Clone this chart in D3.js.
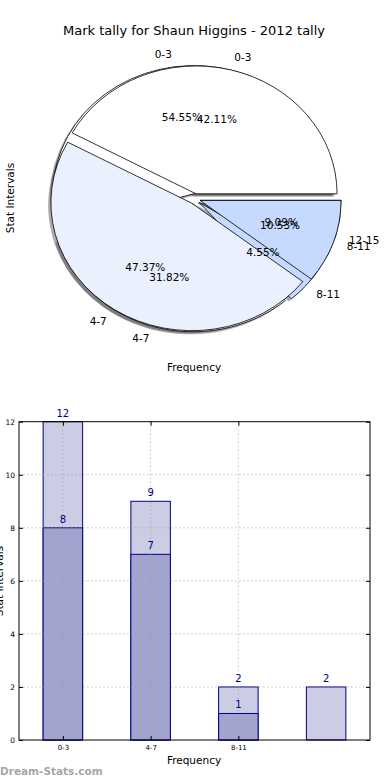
<!DOCTYPE html>
<html>
<head>
<meta charset="utf-8">
<script src="https://cdnjs.cloudflare.com/ajax/libs/d3/7.8.5/d3.min.js"></script>
<style>
  body { margin: 0; background: #fff; }
  svg { display: block; font-family: "DejaVu Sans", sans-serif; }
</style>
</head>
<body>
<div id="chart"></div>
<script>
// data
const categories = ["0-3", "4-7", "8-11", "12-15"];
const pieOuter = [12, 7, 1, 2];      // 22 in total
const pieInner = [8, 9, 2];          // 19 in total
const barLight = [12, 9, 2, 2];
const barDark = [8, 7, 1];
const xTickLabels = ["0-3", "4-7", "8-11"];
const yTicks = [0, 2, 4, 6, 8, 10, 12];

const pieColors = ["#ffffff", "#eaf0fd", "#c6d9ff", "#c6d9ff"];

let svg = d3.select("#chart").append("svg")
    .attr("width", 390)
    .attr("height", 780);

pieChart();
barChart();

function pieChart() {
    let cx = 194.7, cy = 198.8, rx = 141, ry = 128;
    let explode = 0.04;

    svg.append("text")
        .attr("x", 194)
        .attr("y", 35)
        .attr("text-anchor", "middle")
        .style("font-size", "13px")
        .text("Mark tally for Shaun Higgins - 2012 tally");

    svg.append("text")
        .attr("transform", "translate(14,198) rotate(-90)")
        .attr("text-anchor", "middle")
        .style("font-size", "10.5px")
        .text("Stat Intervals");

    svg.append("text")
        .attr("x", 194)
        .attr("y", 371)
        .attr("text-anchor", "middle")
        .style("font-size", "10.5px")
        .text("Frequency");

    // matplotlib style: start at 3 o'clock, go counter clockwise
    let pie = d3.pie().sort(null)
        .startAngle(Math.PI / 2)
        .endAngle(Math.PI / 2 - 2 * Math.PI);
    let arc = d3.arc().innerRadius(0).outerRadius(1);

    let pies = [pieOuter, pieInner].map(vals => {
        let total = d3.sum(vals);
        return pie(vals).map((d, i) => {
            let mid = (d.startAngle + d.endAngle) / 2;
            d.dx = Math.sin(mid) * rx * explode;
            d.dy = -Math.cos(mid) * ry * explode;
            d.mid = mid;
            d.color = pieColors[i];
            d.label = categories[i];
            d.pct = (d.value / total * 100).toFixed(2) + "%";
            return d;
        });
    });

    let shadowG = svg.append("g");
    let wedgeG = svg.append("g");
    let textG = svg.append("g");

    pies.forEach(slices => {
        // shadows go under every wedge
        shadowG.selectAll(null)
            .data(slices)
            .enter()
            .append("path")
            .attr("d", arc)
            .attr("transform", d => "translate(" + (cx + d.dx - 2.8) + "," + (cy + d.dy + 2.6) + ") scale(" + rx + "," + ry + ")")
            .attr("fill", d => { let c = d3.rgb(d.color); return d3.rgb(c.r * 0.3, c.g * 0.3, c.b * 0.3); })
            .attr("fill-opacity", 0.45)
            .attr("stroke", "none");

        wedgeG.selectAll(null)
            .data(slices)
            .enter()
            .append("path")
            .attr("d", arc)
            .attr("transform", d => "translate(" + (cx + d.dx) + "," + (cy + d.dy) + ") scale(" + rx + "," + ry + ")")
            .attr("fill", d => d.color)
            .attr("stroke", "#000")
            .attr("stroke-width", 0.8)
            .attr("vector-effect", "non-scaling-stroke")
            .attr("stroke-linejoin", "round");

        // category labels
        textG.selectAll(null)
            .data(slices)
            .enter()
            .append("text")
            .attr("x", d => cx + d.dx + Math.sin(d.mid) * rx * 1.1)
            .attr("y", d => cy + d.dy - Math.cos(d.mid) * ry * 1.1)
            .attr("dy", "0.35em")
            .attr("text-anchor", d => Math.sin(d.mid) > 0 ? "start" : "end")
            .style("font-size", "10.5px")
            .text(d => d.label);

        // percentages
        textG.selectAll(null)
            .data(slices)
            .enter()
            .append("text")
            .attr("x", d => cx + d.dx + Math.sin(d.mid) * rx * 0.6)
            .attr("y", d => cy + d.dy - Math.cos(d.mid) * ry * 0.6)
            .attr("dy", "0.35em")
            .attr("text-anchor", "middle")
            .style("font-size", "10.5px")
            .text(d => d.pct);
    });
}

function barChart() {
    let left = 19, right = 370, top = 421.7, bottom = 740;

    let x = d3.scaleLinear().domain([-0.5, 3.5]).range([left, right]);
    let y = d3.scaleLinear().domain([0, 12]).range([bottom, top]);
    let bw = 0.45;

    let g = svg.append("g");

    // light bars, then dark bars on top
    g.selectAll(null)
        .data(barLight)
        .enter()
        .append("rect")
        .attr("x", (d, i) => x(i - bw / 2))
        .attr("width", x(bw) - x(0))
        .attr("y", d => y(d))
        .attr("height", d => bottom - y(d))
        .attr("fill", "#ccccE5")
        .attr("stroke", "#000080")
        .attr("stroke-width", 1);

    g.selectAll(null)
        .data(barDark)
        .enter()
        .append("rect")
        .attr("x", (d, i) => x(i - bw / 2))
        .attr("width", x(bw) - x(0))
        .attr("y", d => y(d))
        .attr("height", d => bottom - y(d))
        .attr("fill", "#a3a3cf")
        .attr("stroke", "#000080")
        .attr("stroke-width", 1);

    // grid on top of the bars
    g.selectAll(null)
        .data(yTicks.slice(1, -1))
        .enter()
        .append("line")
        .attr("x1", left).attr("x2", right)
        .attr("y1", d => y(d)).attr("y2", d => y(d))
        .attr("stroke", "#999")
        .attr("stroke-opacity", 0.6)
        .attr("stroke-dasharray", "1.5,2.5");

    g.selectAll(null)
        .data(xTickLabels)
        .enter()
        .append("line")
        .attr("x1", (d, i) => x(i)).attr("x2", (d, i) => x(i))
        .attr("y1", top).attr("y2", bottom)
        .attr("stroke", "#999")
        .attr("stroke-opacity", 0.6)
        .attr("stroke-dasharray", "1.5,2.5");

    // value labels
    g.selectAll(null)
        .data(barLight)
        .enter()
        .append("text")
        .attr("x", (d, i) => x(i))
        .attr("y", d => y(d) - 5)
        .attr("text-anchor", "middle")
        .attr("fill", "#000080")
        .style("font-size", "10px")
        .text(d => d);

    g.selectAll(null)
        .data(barDark)
        .enter()
        .append("text")
        .attr("x", (d, i) => x(i))
        .attr("y", d => y(d) - 5)
        .attr("text-anchor", "middle")
        .attr("fill", "#000080")
        .style("font-size", "10px")
        .text(d => d);

    // frame
    g.append("rect")
        .attr("x", left).attr("y", top)
        .attr("width", right - left).attr("height", bottom - top)
        .attr("fill", "none")
        .attr("stroke", "#000")
        .attr("stroke-width", 1);

    // axes (inward ticks like matplotlib)
    g.append("g")
        .attr("transform", "translate(" + left + ",0)")
        .call(d3.axisLeft(y).tickValues(yTicks).tickSize(-4).tickPadding(4).tickFormat(d3.format("d")))
        .call(a => a.select(".domain").remove())
        .selectAll("text").style("font-size", "7.5px").style("font-family", "DejaVu Sans");

    g.append("g")
        .attr("transform", "translate(" + right + ",0)")
        .call(d3.axisRight(y).tickValues(yTicks).tickSize(-4).tickFormat(""))
        .call(a => a.select(".domain").remove());

    g.append("g")
        .attr("transform", "translate(0," + bottom + ")")
        .call(d3.axisBottom(x).tickValues(d3.range(xTickLabels.length)).tickSize(-4).tickPadding(5).tickFormat(i => xTickLabels[i]))
        .call(a => a.select(".domain").remove())
        .selectAll("text").style("font-size", "7px").style("font-family", "DejaVu Sans");

    g.append("g")
        .attr("transform", "translate(0," + top + ")")
        .call(d3.axisTop(x).tickValues(d3.range(xTickLabels.length)).tickSize(-4).tickFormat(""))
        .call(a => a.select(".domain").remove());

    svg.append("text")
        .attr("x", 194)
        .attr("y", 764)
        .attr("text-anchor", "middle")
        .style("font-size", "10.5px")
        .text("Frequency");

    svg.append("text")
        .attr("transform", "translate(3,581) rotate(-90)")
        .attr("text-anchor", "middle")
        .style("font-size", "10.5px")
        .text("Stat Intervals");

    svg.append("text")
        .attr("x", 0)
        .attr("y", 775)
        .attr("fill", "#a6a6a6")
        .style("font-size", "10.5px")
        .style("font-weight", "bold")
        .text("Dream-Stats.com");
}
</script>
</body>
</html>
